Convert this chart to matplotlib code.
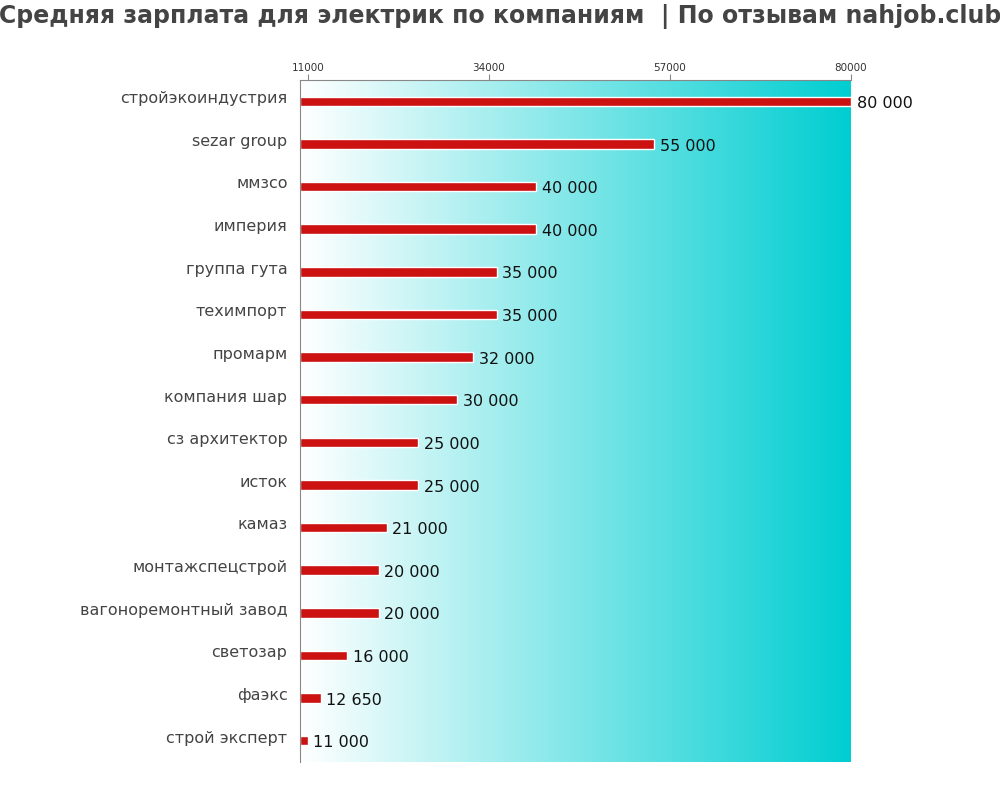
import matplotlib
matplotlib.use("Agg")
import matplotlib.pyplot as plt
import matplotlib.transforms as mtransforms
from matplotlib.colors import LinearSegmentedColormap
import numpy as np

companies = [
    "стройэкоиндустрия", "sezar group", "ммзсо", "империя", "группа гута",
    "техимпорт", "промарм", "компания шар", "сз архитектор", "исток",
    "камаз", "монтажспецстрой", "вагоноремонтный завод", "светозар",
    "фаэкс", "строй эксперт",
]
salaries = [80000, 55000, 40000, 40000, 35000, 35000, 32000, 30000,
            25000, 25000, 21000, 20000, 20000, 16000, 12650, 11000]
tick_values = [11000, 34000, 57000, 80000]
x_min = 10000

fig = plt.figure(figsize=(10, 8), dpi=100)
ax = fig.add_axes([0.3, 0.0475, 0.551, 0.8525])

# gradient background
cmap = LinearSegmentedColormap.from_list("bg", ["#ffffff", "#00ced1"])
grad = np.linspace(0, 1, 256).reshape(1, -1)
ax.imshow(grad, aspect="auto", cmap=cmap,
          extent=[x_min, tick_values[-1], len(companies) - 0.5, -0.5], zorder=0)

y = np.arange(len(companies))
ax.barh(y, [s - x_min for s in salaries], left=x_min, height=0.22,
        color="#cc1111", edgecolor="white", linewidth=1, zorder=2)

for yi, s in zip(y, salaries):
    ax.annotate(f"{s:,}".replace(",", " "), (s, yi), xytext=(4, -1.5),
                textcoords="offset points", va="center", ha="left",
                fontsize=11.5, color="#111111", zorder=3)

ax.set_xlim(x_min, tick_values[-1])
ax.set_ylim(len(companies) - 0.5, -0.5)

ax.xaxis.tick_top()
ax.set_xticks(tick_values)
ax.set_xticklabels([str(t) for t in tick_values], fontsize=7.5, color="#333333")
ax.tick_params(axis="x", length=4, color="#888888", pad=1)

ax.set_yticks(y)
ax.set_yticklabels(companies, fontsize=11.5, color="#444444")
ax.tick_params(axis="y", length=0, pad=9)
offset = mtransforms.ScaledTranslation(0, 3 / 72, fig.dpi_scale_trans)
for lbl in ax.get_yticklabels():
    lbl.set_transform(lbl.get_transform() + offset)

for side in ["right", "bottom"]:
    ax.spines[side].set_visible(False)
for side in ["top", "left"]:
    ax.spines[side].set_color("#888888")

fig.text(0.5, 0.979, "Средняя зарплата для электрик по компаниям  | По отзывам nahjob.club",
         ha="center", va="center", fontsize=17, fontweight="bold", color="#444444")

fig.savefig("out.png", dpi=100)
